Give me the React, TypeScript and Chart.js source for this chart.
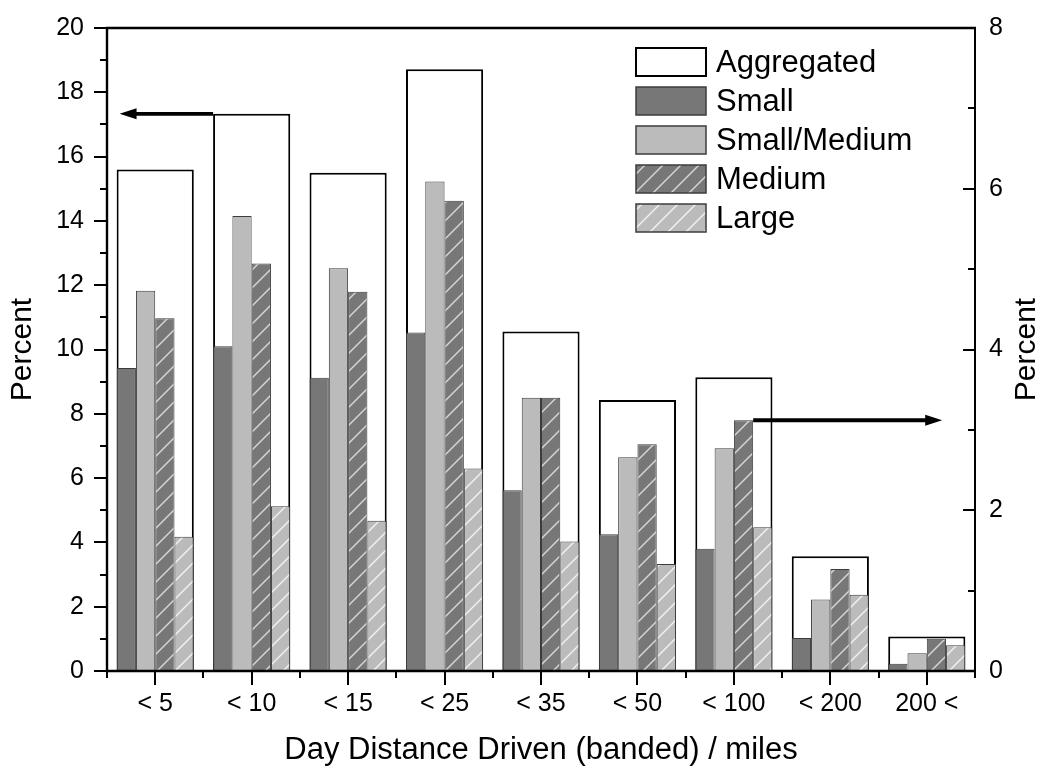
import React, { useEffect, useRef } from 'react';
import { Chart, registerables } from 'chart.js';

Chart.register(...registerables);

const FONT = '"Liberation Sans", Arial, Helvetica, sans-serif';

// ---- data ----
const categories = ['< 5', '< 10', '< 15', '< 25', '< 35', '< 50', '< 100', '< 200', '200 <'];
// left axis (0-20)
const aggregated = [15.6, 17.33, 15.5, 18.72, 10.56, 8.43, 9.14, 3.57, 1.07];
// right axis (0-8)
const small = [3.77, 4.04, 3.65, 4.21, 2.25, 1.7, 1.52, 0.41, 0.09];
const smallMedium = [4.73, 5.66, 5.01, 6.09, 3.4, 2.66, 2.77, 0.89, 0.22];
const medium = [4.39, 5.07, 4.72, 5.85, 3.4, 2.82, 3.12, 1.27, 0.4];
const large = [1.67, 2.05, 1.87, 2.52, 1.61, 1.33, 1.79, 0.95, 0.32];

const leftAxisRange = [0, 20];
const rightAxisRange = [0, 8];
const tickStep = 2;
const rightTitle = 'Percent';

// arrows: [fromIndex, toIndex, value, axisId]
const arrowAggregated = { from: 0.6, to: -0.37, value: 17.33, axis: 'y' };
const arrowMedium = { from: 6.2, to: 8.16, value: 3.12, axis: 'y1' };

function makeHatch(base: string, line: string): CanvasPattern | string {
  const c = document.createElement('canvas');
  const s = 18;
  c.width = s;
  c.height = s;
  const g = c.getContext('2d');
  if (!g) return base;
  g.fillStyle = base;
  g.fillRect(0, 0, s, s);
  g.strokeStyle = line;
  g.lineWidth = 1.4;
  for (const k of [-1, 0, 1]) {
    g.beginPath();
    g.moveTo(-2, s + 2 + k * s);
    g.lineTo(s + 2, -2 + k * s);
    g.stroke();
  }
  const p = g.createPattern(c, 'repeat');
  return p || base;
}

function drawArrow(ctx: CanvasRenderingContext2D, x1: number, x2: number, y: number) {
  const dir = x2 > x1 ? 1 : -1;
  const head = 17;
  ctx.save();
  ctx.strokeStyle = '#000';
  ctx.fillStyle = '#000';
  ctx.lineWidth = 3.8;
  ctx.beginPath();
  ctx.moveTo(x1, y);
  ctx.lineTo(x2 - dir * head * 0.8, y);
  ctx.stroke();
  ctx.beginPath();
  ctx.moveTo(x2, y);
  ctx.lineTo(x2 - dir * head, y - 5.5);
  ctx.lineTo(x2 - dir * head, y + 5.5);
  ctx.closePath();
  ctx.fill();
  ctx.restore();
}

const decorPlugin = {
  id: 'decor',
  afterDatasetsDraw(chart: any) {
    const ctx: CanvasRenderingContext2D = chart.ctx;
    const { left, right, top, bottom } = chart.chartArea;
    const xs = chart.scales.x;
    const yl = chart.scales.y;
    const yr = chart.scales.y1;
    ctx.save();
    ctx.strokeStyle = '#000';
    ctx.lineCap = 'butt';
    // frame
    ctx.lineWidth = 2.4;
    ctx.beginPath();
    ctx.moveTo(left, top);
    ctx.lineTo(left, bottom);
    ctx.moveTo(left - 1.2, bottom);
    ctx.lineTo(right + 1, bottom);
    ctx.moveTo(left - 1.2, top);
    ctx.lineTo(right + 1, top);
    ctx.stroke();
    ctx.lineWidth = 2;
    ctx.beginPath();
    ctx.moveTo(right, top);
    ctx.lineTo(right, bottom);
    ctx.stroke();

    // left ticks (outward)
    ctx.lineWidth = 2;
    ctx.beginPath();
    for (let v = leftAxisRange[0]; v <= leftAxisRange[1]; v += 1) {
      const y = Math.round(yl.getPixelForValue(v));
      const len = v % tickStep === 0 ? 13 : 7;
      ctx.moveTo(left, y);
      ctx.lineTo(left - len, y);
    }
    // right ticks (inward)
    for (let v = rightAxisRange[0] + 1; v <= rightAxisRange[1] - 1; v += 1) {
      const y = Math.round(yr.getPixelForValue(v));
      const len = v % tickStep === 0 ? 12 : 7;
      ctx.moveTo(right, y);
      ctx.lineTo(right - len, y);
    }
    // bottom ticks
    for (let i = 0; i < categories.length; i++) {
      const x = Math.round(xs.getPixelForValue(i));
      ctx.moveTo(x, bottom);
      ctx.lineTo(x, bottom + 14);
    }
    for (let i = 0; i <= categories.length; i++) {
      const x = Math.round(xs.getPixelForValue(i - 0.5));
      ctx.moveTo(x, bottom);
      ctx.lineTo(x, bottom + 7);
    }
    ctx.stroke();
    ctx.restore();

    // arrows
    for (const a of [arrowAggregated, arrowMedium]) {
      const sc = chart.scales[a.axis];
      drawArrow(ctx, xs.getPixelForValue(a.from), xs.getPixelForValue(a.to), sc.getPixelForValue(a.value));
    }

    // right axis title (reads bottom-to-top like the left one)
    ctx.save();
    ctx.translate(yr.right - 14, (top + bottom) / 2);
    ctx.rotate(-Math.PI / 2);
    ctx.fillStyle = '#000';
    ctx.font = `30px ${FONT}`;
    ctx.textAlign = 'center';
    ctx.textBaseline = 'middle';
    ctx.fillText(rightTitle, 0, 0);
    ctx.restore();

    // legend
    const bx = right - 339;
    const by0 = top + 20;
    const bw = 70;
    const bh = 28;
    const gap = 39;
    ctx.save();
    chart.data.datasets.forEach((ds: any, i: number) => {
      const y = by0 + i * gap;
      ctx.fillStyle = ds.backgroundColor;
      ctx.fillRect(bx, y, bw, bh);
      ctx.strokeStyle = ds.borderColor;
      ctx.lineWidth = ds.borderWidth === 2 ? 2 : 1.5;
      ctx.strokeRect(bx, y, bw, bh);
      ctx.fillStyle = '#000';
      ctx.font = `31px ${FONT}`;
      ctx.textBaseline = 'middle';
      ctx.textAlign = 'left';
      ctx.fillText(ds.label, bx + bw + 10, y + bh / 2 + 1);
    });
    ctx.restore();
  },
};

const hiddenGrid = (len: number) => ({
  display: true,
  drawOnChartArea: false,
  drawTicks: true,
  tickLength: len,
  color: 'rgba(0,0,0,0)',
});

export default function App() {
  const ref = useRef<HTMLCanvasElement | null>(null);

  useEffect(() => {
    if (!ref.current) return;
    const mediumHatch = makeHatch('#777777', '#d8d8d8');
    const largeHatch = makeHatch('#bbbbbb', '#f2f2f2');
    const common = { categoryPercentage: 0.8, barPercentage: 1.0, yAxisID: 'y1', borderWidth: 1, borderColor: '#3c3c3c', order: 0 };
    const chart = new Chart(ref.current, {
      type: 'bar',
      data: {
        labels: categories,
        datasets: [
          {
            label: 'Aggregated',
            data: aggregated,
            yAxisID: 'y',
            grouped: false,
            categoryPercentage: 0.8,
            barPercentage: 1.0,
            backgroundColor: '#ffffff',
            borderColor: '#000000',
            borderWidth: 2,
            order: 1,
          } as any,
          { ...common, label: 'Small', data: small, backgroundColor: '#777777' },
          { ...common, label: 'Small/Medium', data: smallMedium, backgroundColor: '#bbbbbb' },
          { ...common, label: 'Medium', data: medium, backgroundColor: mediumHatch },
          { ...common, label: 'Large', data: large, backgroundColor: largeHatch },
        ],
      },
      options: {
        animation: false,
        responsive: false,
        devicePixelRatio: 1,
        layout: { padding: { top: 28, left: 0, right: 0, bottom: 0 } },
        plugins: { legend: { display: false }, tooltip: { enabled: false } },
        scales: {
          x: {
            type: 'category',
            offset: true,
            grid: hiddenGrid(14),
            border: { display: false },
            ticks: { font: { size: 25, family: FONT }, color: '#000', padding: 4, maxRotation: 0, autoSkip: false },
            title: {
              display: true,
              text: 'Day Distance Driven (banded) / miles',
              font: { size: 31, family: FONT },
              color: '#000',
              padding: { top: 0, bottom: 0 },
            },
            afterFit: (s: any) => {
              s.height = 98;
            },
          },
          y: {
            position: 'left',
            min: leftAxisRange[0],
            max: leftAxisRange[1],
            grid: hiddenGrid(19),
            border: { display: false },
            ticks: { stepSize: tickStep, font: { size: 25, family: FONT }, color: '#000', padding: 4 },
            title: { display: true, text: 'Percent', font: { size: 30, family: FONT }, color: '#000', padding: { top: 5, bottom: 0 } },
            afterFit: (s: any) => {
              s.width = 107;
            },
          },
          y1: {
            position: 'right',
            min: rightAxisRange[0],
            max: rightAxisRange[1],
            grid: hiddenGrid(10),
            border: { display: false },
            ticks: { stepSize: tickStep, font: { size: 25, family: FONT }, color: '#000', padding: 4 },
            title: { display: false },
            afterFit: (s: any) => {
              s.width = 66;
            },
          },
        },
      } as any,
      plugins: [decorPlugin],
    });
    return () => chart.destroy();
  }, []);

  return (
    <div style={{ position: 'fixed', left: 0, top: 0, width: 1041, height: 769, background: '#fff' }}>
      <canvas ref={ref} width={1041} height={769} style={{ display: 'block' }} />
    </div>
  );
}
